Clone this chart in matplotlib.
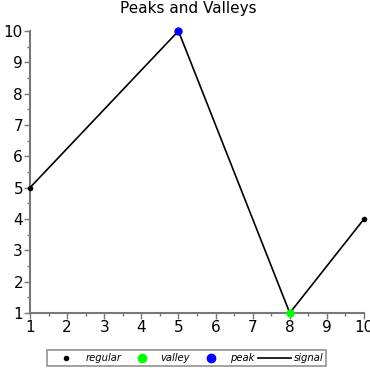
import matplotlib
matplotlib.use("Agg")
import matplotlib.pyplot as plt
from matplotlib.lines import Line2D
from matplotlib.ticker import MultipleLocator

x = [1, 5, 8, 10]
y = [5, 10, 1, 4]
peak_x, peak_y = [5], [10]
valley_x, valley_y = [8], [1]
regular_x, regular_y = [1, 10], [5, 4]

fig = plt.figure(figsize=(3.7, 3.7), dpi=100)
ax = fig.add_axes([30/370, 1-313/370, (364-30)/370, (313-31)/370])
ax.plot(x, y, color='black', lw=1.2, clip_on=False, zorder=2)
ax.scatter(regular_x, regular_y, s=9, color='black', clip_on=False, zorder=3)
ax.scatter(valley_x, valley_y, s=25, color='#00ff00', clip_on=False, zorder=3)
ax.scatter(peak_x, peak_y, s=25, color='#0000ff', clip_on=False, zorder=3)
ax.set_xlim(1, 10)
ax.set_ylim(1, 10)
ax.xaxis.set_major_locator(MultipleLocator(1))
ax.yaxis.set_major_locator(MultipleLocator(1))
ax.xaxis.set_minor_locator(MultipleLocator(0.5))
ax.yaxis.set_minor_locator(MultipleLocator(0.5))
for s in ['top', 'right']:
    ax.spines[s].set_visible(False)
for s in ['left', 'bottom']:
    ax.spines[s].set_color('#777777')
    ax.spines[s].set_linewidth(1.5)
ax.tick_params(which='major', length=4, width=1, color='#777777', labelsize=11, pad=1)
ax.tick_params(which='minor', length=2.5, width=1, color='#777777')
fig.text(188/370, 1-9/370, 'Peaks and Valleys', fontsize=11, ha='center', va='center')

handles = [
    Line2D([], [], ls='none', marker='o', color='black', markersize=3),
    Line2D([], [], ls='none', marker='o', color='#00ff00', markersize=6),
    Line2D([], [], ls='none', marker='o', color='#0000ff', markersize=6),
    Line2D([], [], color='black', lw=1.2),
]
labels = ['regular', 'valley', 'peak', 'signal']
leg = fig.legend(handles, labels, loc='center', bbox_to_anchor=(186.5/370, 1-358/370),
                 ncol=4, prop={'style': 'italic', 'size': 7.2}, frameon=True,
                 fancybox=False, edgecolor='#777777', handlelength=3.3,
                 columnspacing=0.4, handletextpad=0.25, borderpad=0.3,
                 borderaxespad=0)
leg.get_frame().set_linewidth(1.2)
fig.savefig('out.png', dpi=100)
